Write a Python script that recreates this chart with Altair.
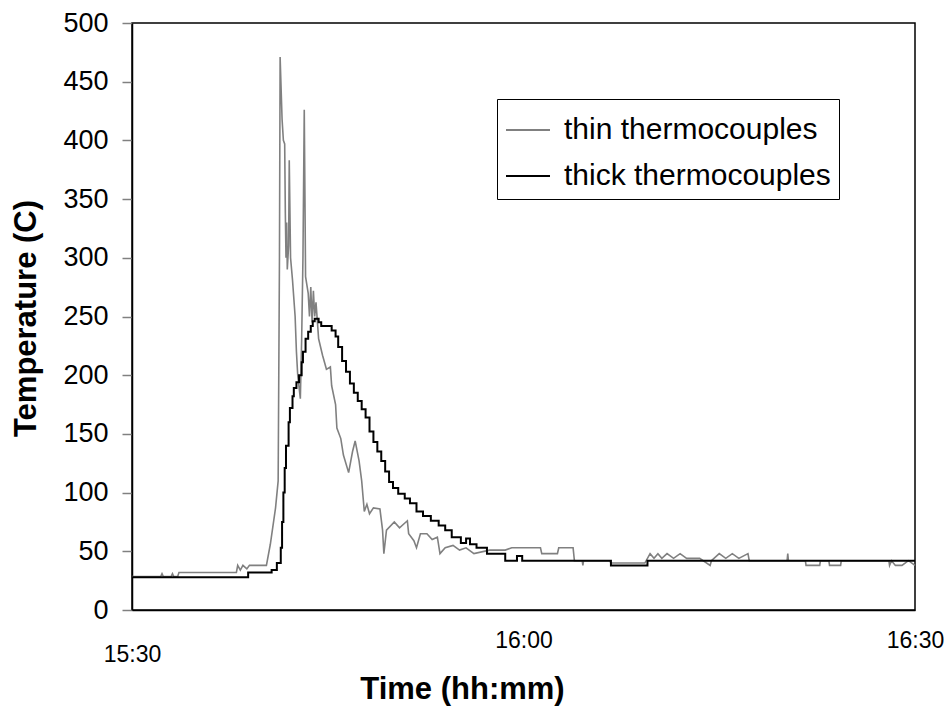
import altair as alt
import pandas as pd

# minutes after 15:30
thin_t = [0, 2.2, 2.3, 2.4, 3.0, 3.1, 3.2, 3.5, 3.6, 8.0, 8.1, 8.3, 8.5, 8.8, 9.0, 10.3, 10.6, 11.0, 11.2,
          11.3, 11.35, 11.5, 11.6, 11.7, 11.75, 11.8, 11.85, 11.9, 12.0, 12.05, 12.15, 12.3, 12.5, 12.6, 12.7,
          12.9, 13.0, 13.1, 13.2, 13.3, 13.5, 13.6, 13.7, 13.8, 13.9, 14.0, 14.1, 14.3, 14.6, 14.9, 15.2,
          15.3, 15.6, 15.7, 16.0, 16.2, 16.6, 16.9, 17.1, 17.4, 17.6, 17.8, 18.0, 18.2, 18.5, 19.0, 19.2,
          19.3, 19.5, 20.1, 20.5, 21.1, 21.2, 21.6, 21.8, 22.1, 22.6, 23.0, 23.4, 23.6, 24.0, 24.6, 25.1,
          25.6, 26.2, 27.4, 28.6, 29.1, 31.3, 31.4, 32.6, 32.7, 33.8, 33.9, 34.5, 34.55, 34.6, 36.6, 36.7,
          39.3, 39.7, 40.0, 40.3, 40.6, 41.0, 41.5, 42.0, 42.5, 43.5, 44.3, 44.4, 45.0, 45.5, 46.0, 46.5,
          47.2, 47.3, 50.2, 50.25, 50.3, 51.6, 51.65, 52.7, 52.75, 53.4, 53.45, 54.3, 54.35, 58.0, 58.05,
          58.2, 58.5, 59.0, 59.5, 60.0]
thin_v = [28.5, 28.5, 31, 28.5, 28.5, 31, 28.5, 28.5, 32, 32, 38, 34, 38, 35, 38, 38, 56, 87, 110,
          300, 471, 418, 400, 397, 338, 300, 330, 290, 310, 383, 300, 281, 250, 220, 200,
          180, 230, 300, 426, 284, 270, 250, 275, 245, 272, 250, 262, 231, 217, 205, 207,
          191, 175, 155, 146, 132, 117, 135, 144, 127, 110, 84, 90, 82, 87, 86, 68,
          48, 68, 75, 70, 76, 65, 59, 53, 65, 65, 60, 62, 48, 53, 55, 51,
          53, 48, 51, 51, 53, 53, 48, 48, 53, 53, 42, 42, 38, 42, 42, 40,
          40, 48, 44, 48, 44, 48, 44, 48, 44, 44, 38, 42, 48, 44, 48, 44,
          48, 42, 42, 48, 42, 42, 38, 38, 42, 42, 38, 38, 42, 42, 38,
          42, 38, 38, 42, 38]

thick_t = [0, 8.9, 10.7, 11.1, 11.4, 11.5, 11.6, 11.7, 11.8, 12.0, 12.1, 12.3, 12.4, 12.6, 12.8, 13.0,
           13.1, 13.3, 13.5, 13.7, 13.85, 14.0, 14.3, 14.5, 15.0, 15.3, 15.6, 15.8, 16.1, 16.4, 16.7,
           17.0, 17.3, 17.6, 17.9, 18.2, 18.5, 18.8, 19.1, 19.4, 19.7, 20.0, 20.4, 20.9, 21.3, 21.8,
           22.3, 22.9, 23.5, 24.0, 24.5, 25.2, 25.6, 25.9, 26.4, 27.2, 28.6, 29.5, 29.9, 36.7, 39.5, 60.0]
thick_v = [28, 32, 34, 40, 53, 75, 100, 121, 140, 160, 172, 182, 189, 194, 200, 211,
           220, 231, 237, 242, 246, 248, 245, 242, 242, 238, 233, 224, 212, 203, 193,
           185, 178, 171, 164, 152, 143, 135, 127, 118, 109, 104, 99, 95, 91, 84,
           80, 76, 72, 68, 62, 57, 61, 56, 53, 48, 42, 46, 42, 38, 42, 42]

series_names = ["thin thermocouples", "thick thermocouples"]
series_colors = ["#808080", "#000000"]
x_tick_values = [0, 30, 60]
x_tick_labels = ["15:30", "16:00", "16:30"]
y_tick_values = list(range(0, 501, 50))

thin_df = pd.DataFrame({"t": thin_t, "v": thin_v, "s": series_names[0]})
thick_df = pd.DataFrame({"t": thick_t, "v": thick_v, "s": series_names[1]})

label_expr = " : ".join(
    f"datum.value == {v} ? '{l}'" for v, l in zip(x_tick_values[:-1], x_tick_labels[:-1])
) + f" : '{x_tick_labels[-1]}'"

FONT = "Liberation Sans"

x_enc = alt.X(
    "t:Q",
    scale=alt.Scale(domain=[0, 60], nice=False, zero=False),
    axis=alt.Axis(
        values=x_tick_values,
        labelExpr=label_expr,
        title="Time (hh:mm)",
        titleFont=FONT, titleFontSize=31, titleFontWeight="bold", titleColor="black",
        titleX=330, titleY=88, titleAnchor="start", titleAlign="center", titleBaseline="alphabetic",
        labelFont=FONT, labelFontSize=23, labelColor="black",
        labelBaseline="alphabetic",
        labelPadding={"condition": {"test": "datum.value == 0", "value": 51}, "value": 37},
        ticks=False, tickSize=0,
        domainColor="black", domainWidth=1.5,
        grid=False, labelFlush=False, labelOverlap=False,
    ),
)
y_enc = alt.Y(
    "v:Q",
    scale=alt.Scale(domain=[0, 500], nice=False),
    axis=alt.Axis(
        values=y_tick_values,
        title="Temperature (C)",
        titleFont=FONT, titleFontSize=31, titleFontWeight="bold", titleColor="black",
        titleX=-97, titleY=295, titleAngle=270, titleAlign="center", titleBaseline="alphabetic",
        labelFont=FONT, labelFontSize=27, labelColor="black", labelPadding=14,
        tickColor="#808080", tickSize=10, tickWidth=1.5,
        domainColor="black", domainWidth=1.5,
        grid=False, labelOverlap=False,
    ),
)
color_enc = alt.Color(
    "s:N",
    scale=alt.Scale(domain=series_names, range=series_colors),
    legend=alt.Legend(
        title=None, orient="none", legendX=365, legendY=76,
        strokeColor="black", fillColor="white", padding=8,
        labelFont=FONT, labelFontSize=30, labelColor="black", labelOffset=13,
        symbolType="stroke", symbolSize=1936, symbolStrokeWidth=2,
        rowPadding=8, labelLimit=400,
    ),
)

thin = alt.Chart(thin_df).mark_line(strokeWidth=1.6, interpolate="linear").encode(
    x=x_enc, y=y_enc, color=color_enc
)
thick = alt.Chart(thick_df).mark_line(strokeWidth=2, interpolate="step-after").encode(
    x=x_enc, y=y_enc, color=color_enc
)

chart = alt.layer(thin, thick).properties(
    width=783, height=587,
    autosize=alt.AutoSizeParams(type="none"),
    padding={"left": 124, "top": 15, "right": 29, "bottom": 97},
    background="white",
).configure_view(stroke="black", strokeWidth=1.5)

chart.save("out.html", embed_options={"renderer": "svg", "actions": False})
